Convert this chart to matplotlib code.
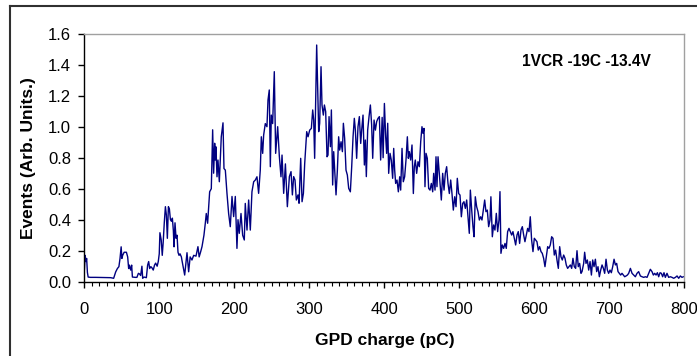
import matplotlib
matplotlib.use("Agg")
import matplotlib.pyplot as plt
from matplotlib.lines import Line2D
from matplotlib.ticker import MultipleLocator, FormatStrFormatter

plt.rcParams['font.family'] = ['Liberation Sans', 'DejaVu Sans']

# ---- data ----
charge_pc = [
    0, 1, 2, 3, 4, 5, 8, 15, 25, 35, 39, 41.7, 44, 46, 47.5, 49, 50, 51, 53, 56,
    57.7, 59, 60, 61.7, 63, 64, 68, 70, 72, 73.5, 75, 76.7, 77.7, 79.5, 81, 82.6,
    84.3, 85.7, 87, 88.6, 90, 91.8, 93.5, 95, 97, 98.5, 99.8, 100.7, 102.4, 103.8,
    105, 106.5, 108, 109.3, 110.6, 112, 113.3, 114.7, 116, 117.3, 118.6, 119.5,
    120.8, 122.2, 123.5, 124.8, 126.2, 127.5, 129.3,
    130, 133.7, 136.8, 139, 141, 143.4, 145.7, 148.8, 151.4, 153, 155, 156.8,
    159.4, 161.2, 162.5, 164.3, 165.7, 167, 169.2, 171, 172.3, 173.7, 174.5,
    175.4, 176.8, 178.1, 179.9, 181.2, 182.5, 184.8, 186.1, 187.9, 190.1, 192.3,
    194.5, 196.8, 199, 201.2, 203.4, 204.8, 206.5, 208.8, 211, 213.2, 214.5,
    216.8, 219, 221.2, 223.4, 225.7, 227.9, 230.1, 232.3, 234.5, 235.9, 237.7,
    239, 241.2, 243.4, 244.8, 246.5, 247.9, 249.2, 251, 253.2, 255, 257.7, 259.9,
    262.1,
    263.5, 265.7, 268, 270.6, 273.3, 275.5, 277.3, 279, 280.8, 282.6, 284.8,
    286.2, 288.4, 290.2, 292, 293.7, 296.4, 298.2, 300.4, 302.6, 304.4, 305.7,
    307, 308.4, 309.7, 311, 312.4, 313.7, 315.5, 316.8, 318.6, 320, 321.7, 323.5,
    324.8, 326.2, 328, 329.3, 331, 332.4, 333.7, 335.5, 337.3, 339, 340.4, 342.2,
    344, 345.3, 347, 348.8, 350.6, 352.4, 354.6, 356.4, 358.2, 359.9, 361.3, 363,
    364.8, 366.6, 368.4, 369.7, 371.5, 373.3, 374.6, 375.9, 377.7, 379.5, 381.3,
    383, 384.4, 386.2, 388, 389.7, 391.5, 393.3, 395, 397, 398.3, 400,
    401.7, 403, 404.4, 405.7, 407.5, 409.2, 411, 412.4, 413.7, 415, 416.8, 418.6,
    420.4, 421.7, 423.5, 425.2, 427, 428.8, 430.6, 431.9, 433.2, 435, 436.8,
    438.6, 439.9, 441.2, 443, 444.8, 446.6, 448.4, 450.1, 451.5, 452.8, 454.1,
    455.5, 457.2, 459, 460.8, 462.6, 464.4, 465.7, 467.5, 468.8, 470.1, 471.5,
    473.2, 474.6, 475.9, 477.7, 479.5, 481.2, 483, 484.8, 486.6, 488.4, 490.1,
    491.9, 493.7, 495.5, 497.2, 499, 500.8, 502.6, 504.4, 506.1, 507.9, 509.7,
    511.5, 513.2, 514.6, 516.4, 518.1, 519.5, 521.2, 523, 524.8, 526.6, 528.4,
    530.1,
    533.7, 535.4, 537.2, 539, 540.8, 542, 543.9, 545.6, 547.4, 549.2, 551, 552.8,
    554.1, 555.4, 557.2, 559, 560.8, 562.5, 564.3, 566.1, 567.9, 569.7, 571.4,
    573.2, 575, 576.8, 578.5, 580.3, 582.1, 583.9, 585.7, 587.4, 589.2, 591,
    592.8, 594.5, 596.3, 598.1, 599.9, 601.7, 603.4, 605.2, 607, 608.8, 610.5,
    612.3, 614.1, 615.9, 617.7, 619.4, 621.2, 623, 624.8, 626.5, 628.3, 630.1,
    631.9, 633.7, 635.4, 637.2, 639, 640.8, 642.5, 644.3, 646.1, 647.9, 649.7,
    651.4, 653.2, 655, 656.8, 658.5, 660.3, 662.1,
    663.5, 665.7, 667, 668.8, 670.6, 672.4, 674.2, 676, 677.7, 679.5, 681.3, 683,
    684.8, 686.6, 688.4, 690.2, 692, 693.7, 695.5, 697.3, 699, 700.8, 702.6,
    704.4, 706.2, 708, 709.7, 711.5, 713.3, 715, 716.8, 718.6, 720.4, 722.2, 724,
    725.7, 728, 730.2, 732.4, 734.6, 736.8, 739, 741.3, 743.5, 745.7, 748, 750.2,
    752.4, 754.6, 756.8, 758.6, 760.4, 762.2, 764, 765.7, 767.5, 769.3, 771,
    772.8, 774.6, 776.8, 779, 781.3, 783.5, 785.7, 788, 790.2, 792.4, 794.6,
    796.8, 798.6,
]

events = [
    0.08, 0.17, 0.13, 0.15, 0.06, 0.03, 0.028, 0.028, 0.027, 0.026, 0.022, 0.063,
    0.085, 0.097, 0.15, 0.225, 0.15, 0.17, 0.19, 0.19, 0.16, 0.085, 0.107, 0.075,
    0.107, 0.03, 0.028, 0.028, 0.054, 0.05, 0.04, 0.1, 0.022, 0.03, 0.028, 0.026,
    0.107, 0.13, 0.085, 0.097, 0.09, 0.075, 0.107, 0.12, 0.1, 0.13, 0.18, 0.316,
    0.27, 0.17, 0.25, 0.38, 0.484, 0.43, 0.28, 0.484, 0.47, 0.4, 0.39, 0.41, 0.33,
    0.225, 0.38, 0.28, 0.3, 0.19, 0.17, 0.18, 0.16,
    0.14, 0.043, 0.187, 0.064, 0.16, 0.14, 0.17, 0.165, 0.226, 0.16, 0.193,
    0.226, 0.30, 0.377, 0.44, 0.377, 0.48, 0.58, 0.60, 0.98, 0.70, 0.893, 0.785,
    0.87, 0.677, 0.785, 0.645, 0.785, 0.935, 1.025, 0.73, 0.72, 0.57, 0.44,
    0.355, 0.55, 0.42, 0.55, 0.215, 0.40, 0.312, 0.44, 0.30, 0.269, 0.505,
    0.333, 0.527, 0.333, 0.58, 0.645, 0.656, 0.677, 0.57, 0.72, 0.935, 0.828,
    0.946, 1.02, 1.0, 1.172, 1.237, 0.742, 1.075, 1.02, 1.355, 0.828, 1.0, 0.81,
    0.677,
    0.817, 0.57, 0.76, 0.484, 0.678, 0.71, 0.56, 0.678, 0.656, 0.527, 0.56,
    0.506, 0.796, 0.516, 0.57, 0.76, 0.968, 0.935, 0.978, 0.989, 1.108, 1.043,
    0.796, 1.194, 1.527, 1.258, 0.968, 1.022, 1.387, 1.14, 1.075, 1.14, 1.097,
    0.806, 0.817, 1.065, 0.871, 1.108, 0.624, 0.839, 0.72, 0.56, 0.72, 0.935,
    0.849, 0.903, 0.839, 1.022, 0.925, 0.72, 0.688, 0.602, 0.58, 0.742, 0.935,
    1.054, 0.978, 0.796, 1.0, 1.065, 0.892, 0.978, 1.075, 0.753, 0.914, 0.678,
    0.978, 1.065, 1.14, 1.011, 0.796, 1.043, 0.978, 1.033, 1.054, 1.065, 0.785,
    1.06, 0.80, 1.15,
    0.935, 0.828, 1.022, 0.699, 0.828, 0.785, 0.667, 0.86, 0.72, 0.634, 0.656,
    0.58, 0.677, 0.591, 0.86, 0.645, 0.677, 0.785, 0.935, 0.796, 0.839, 0.785,
    0.882, 0.569, 0.742, 0.785, 0.699, 0.774, 0.742, 0.903, 1.0, 0.957, 0.989,
    0.613, 0.828, 0.796, 0.602, 0.591, 0.634, 0.58, 0.699, 0.591, 0.806, 0.613,
    0.806, 0.699, 0.613, 0.527, 0.699, 0.591, 0.699, 0.742, 0.634, 0.569, 0.656,
    0.569, 0.462, 0.548, 0.484, 0.667, 0.569, 0.559, 0.419, 0.505, 0.516, 0.473,
    0.527, 0.419, 0.312, 0.591, 0.462, 0.355, 0.29, 0.548, 0.484, 0.452, 0.398,
    0.419, 0.398,
    0.527, 0.452, 0.462, 0.355, 0.398, 0.548, 0.29, 0.366, 0.333, 0.441, 0.323,
    0.398, 0.581, 0.183, 0.237, 0.215, 0.247, 0.215, 0.323, 0.344, 0.323, 0.301,
    0.323, 0.28, 0.237, 0.301, 0.323, 0.247, 0.333, 0.355, 0.301, 0.258, 0.301,
    0.344, 0.323, 0.419, 0.269, 0.194, 0.28, 0.269, 0.258, 0.204, 0.226, 0.194,
    0.183, 0.151, 0.097, 0.161, 0.226, 0.215, 0.237, 0.29, 0.28, 0.172, 0.204,
    0.14, 0.086, 0.226, 0.161, 0.14, 0.172, 0.151, 0.108, 0.086, 0.097, 0.108,
    0.086, 0.151, 0.097, 0.086, 0.20, 0.097, 0.118, 0.054,
    0.065, 0.118, 0.19, 0.118, 0.14, 0.075, 0.13, 0.043, 0.14, 0.097, 0.145,
    0.065, 0.097, 0.032, 0.075, 0.108, 0.086, 0.054, 0.145, 0.075, 0.054, 0.075,
    0.058, 0.097, 0.145, 0.108, 0.118, 0.065, 0.054, 0.043, 0.054, 0.043, 0.032,
    0.037, 0.043, 0.054, 0.086, 0.054, 0.043, 0.032, 0.054, 0.065, 0.037, 0.032,
    0.028, 0.032, 0.028, 0.054, 0.08, 0.065, 0.043, 0.054, 0.043, 0.058, 0.032,
    0.058, 0.054, 0.032, 0.058, 0.028, 0.054, 0.028, 0.032, 0.028, 0.022, 0.028,
    0.037, 0.022, 0.037, 0.028, 0.032,
]

x_ticks = [0, 100, 200, 300, 400, 500, 600, 700, 800]
y_ticks = [0.0, 0.2, 0.4, 0.6, 0.8, 1.0, 1.2, 1.4, 1.6]
x_label = "GPD charge (pC)"
y_label = "Events (Arb. Units.)"
note = "1VCR -19C -13.4V"

# ---- figure ----
W, H = 697, 356
fig = plt.figure(figsize=(W / 100, H / 100), dpi=100)
left, right, top, bottom = 84.4, 684.4, 33.7, 281.7
ax = fig.add_axes([left / W, 1 - bottom / H, (right - left) / W, (bottom - top) / H])

ax.plot(charge_pc, events, color='#000080', lw=1.0)

ax.set_xlim(0, 800)
ax.set_ylim(0, 1.6)
ax.set_xticks(x_ticks)
ax.set_yticks(y_ticks)
ax.xaxis.set_minor_locator(MultipleLocator(10))
ax.yaxis.set_major_formatter(FormatStrFormatter('%.1f'))

for s in ('top', 'right'):
    ax.spines[s].set_color('#a0a0a0')
    ax.spines[s].set_linewidth(1.0)
for s in ('left', 'bottom'):
    ax.spines[s].set_color('black')
    ax.spines[s].set_linewidth(1.0)

ax.tick_params(axis='x', which='major', direction='out', length=4, width=1,
               pad=10.5, labelsize=12)
ax.tick_params(axis='x', which='minor', direction='out', length=3, width=0.8)
ax.tick_params(axis='y', which='major', direction='out', length=4, width=1,
               pad=5.5, labelsize=12)

ax.set_xlabel(x_label, fontsize=12.5, fontweight='bold', va='center')
ax.xaxis.set_label_coords(0.5, -(340 - bottom) / (bottom - top))
ax.set_ylabel(y_label, fontsize=12.5, fontweight='bold', va='center')
ax.yaxis.set_label_coords((29 - left) / (right - left), 0.5)

ax.text((522 - left) / (right - left), 1 - (62 - top) / (bottom - top), note,
        transform=ax.transAxes, ha='left', va='center', fontsize=11.2,
        fontweight='bold')

# outer frame (left and top edges visible)
fx = 10 / W
fy = 1 - 6 / H
fig.add_artist(Line2D([fx, fx], [0, fy], transform=fig.transFigure,
                      color='#303030', lw=1.5))
fig.add_artist(Line2D([fx, 1], [fy, fy], transform=fig.transFigure,
                      color='#303030', lw=1.5))

fig.savefig('out.png', dpi=100)
